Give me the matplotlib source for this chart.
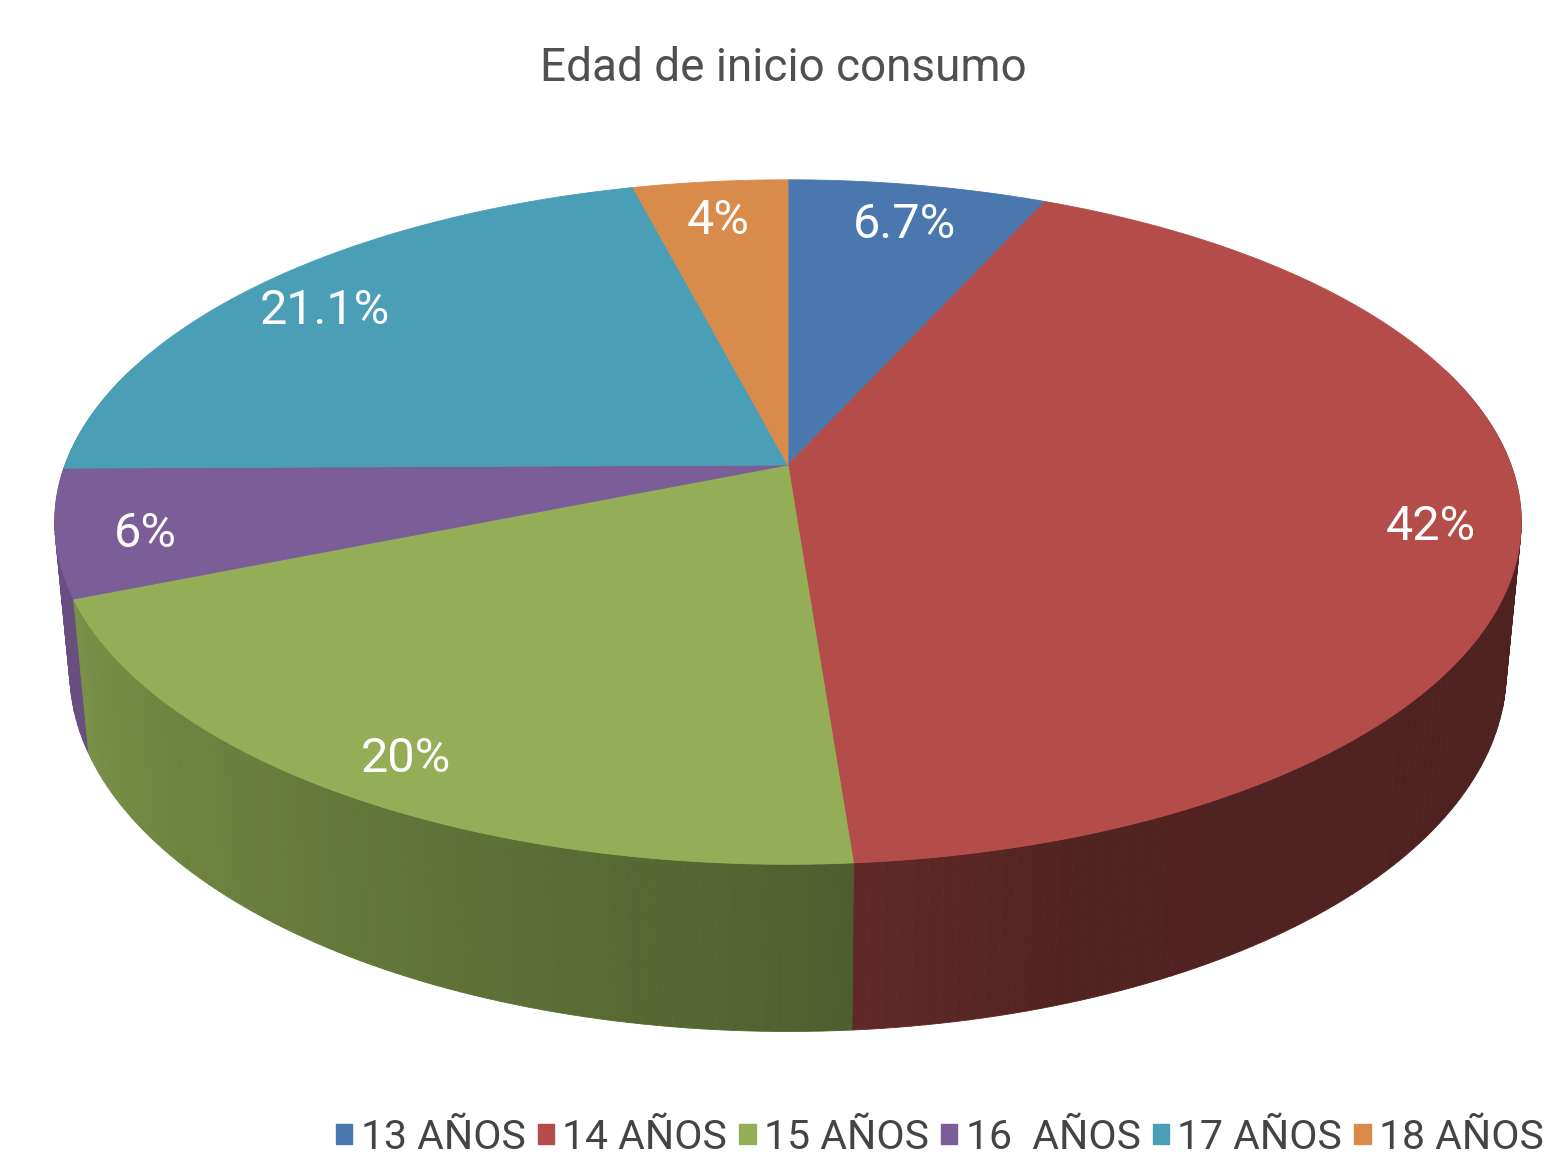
import numpy as np
import matplotlib.pyplot as plt
from matplotlib.patches import Polygon, Patch
from matplotlib import font_manager

# data
categories = ['13 AÑOS', '14 AÑOS', '15 AÑOS', '16  AÑOS', '17 AÑOS', '18 AÑOS']
values = [6.7, 42, 20, 6, 21.1, 4]
value_labels = ['6.7%', '42%', '20%', '6%', '21.1%', '4%']
colors = ['#4a77ad', '#b44d4a', '#93ae56', '#7b5e98', '#4a9fb6', '#d88b4a']

# pick a narrow font if one is installed
names = {f.name for f in font_manager.fontManager.ttflist}
narrow = 'Liberation Sans Narrow' in names
FONT = 'Liberation Sans Narrow' if narrow else 'Roboto'
scale = 1.2 if narrow else 1.0

# 3D view of the pie (pixel space)
CX, CY = 788, 465
ELEV = np.deg2rad(27.4)
S, C = np.sin(ELEV), np.cos(ELEV)
D0 = 6 * C
F = 723 * D0
THICK = 0.235


def project(theta, r=1.0, z=0.0):
    u = r * np.sin(theta)
    v = -r * np.cos(theta)
    d = D0 - v * C - z * S
    return CX + F * u / d, CY - F * (-v * S + z * C) / d


def shade(theta):
    deg = np.degrees(theta) % 360
    return np.interp(deg, [90, 160, 178, 250, 290], [0.43, 0.45, 0.55, 0.84, 0.88])


def darker(col, f):
    rgb = np.array(plt.matplotlib.colors.to_rgb(col))
    return tuple(rgb * f)


fig = plt.figure(figsize=(15.6, 11.6), dpi=100)
ax = fig.add_axes([0, 0, 1, 1])
ax.set_xlim(0, 1560)
ax.set_ylim(1160, 0)
ax.axis('off')

total = sum(values)
bounds = np.concatenate([[0], np.cumsum(values)]) / total * 2 * np.pi

# side strips, far ones first
strips = []
for i, col in enumerate(colors):
    t = np.linspace(bounds[i], bounds[i + 1], max(3, int(np.degrees(bounds[i + 1] - bounds[i]))))
    for a, b in zip(t[:-1], t[1:]):
        m = (a + b) / 2
        depth = -np.cos(m)
        if depth < -0.3:
            continue
        xa, ya = project(a)
        xb, yb = project(b)
        xa2, ya2 = project(a, z=-THICK)
        xb2, yb2 = project(b, z=-THICK)
        c = darker(col, shade(m))
        strips.append((depth, [(xa, ya), (xb, yb), (xb2, yb2), (xa2, ya2)], c))
strips.sort(key=lambda s: s[0])
for _, pts, c in strips:
    ax.add_patch(Polygon(pts, closed=True, facecolor=c, edgecolor=c, lw=0.6))

# top faces
for i, col in enumerate(colors):
    t = np.linspace(bounds[i], bounds[i + 1], 200)
    xs, ys = project(t)
    pts = [(CX, CY)] + list(zip(xs, ys))
    ax.add_patch(Polygon(pts, closed=True, facecolor=col, edgecolor=col, lw=0.6))

# value labels
for i, lab in enumerate(value_labels):
    mid = (bounds[i] + bounds[i + 1]) / 2
    x, y = project(mid, r=0.88)
    ax.text(x, y + 10, lab, ha='center', va='center', color='white',
            fontsize=35 * scale, family=FONT)

ax.text(783, 68, 'Edad de inicio consumo', ha='center', va='center',
        color='#505050', fontsize=33 * scale, family=FONT)

handles = [Patch(facecolor=c, edgecolor=c, label=n) for c, n in zip(colors, categories)]
leg = ax.legend(handles=handles, loc='lower left', bbox_to_anchor=(336 / 1560, 0.003),
                bbox_transform=fig.transFigure, ncol=6, frameon=False,
                prop={'family': FONT, 'size': 29.5 * scale},
                handlelength=0.4, handleheight=0.4, handletextpad=0.2,
                columnspacing=0.3, borderaxespad=0, borderpad=0)
for txt in leg.get_texts():
    txt.set_color('#444444')

plt.savefig('out.png', dpi=100)
